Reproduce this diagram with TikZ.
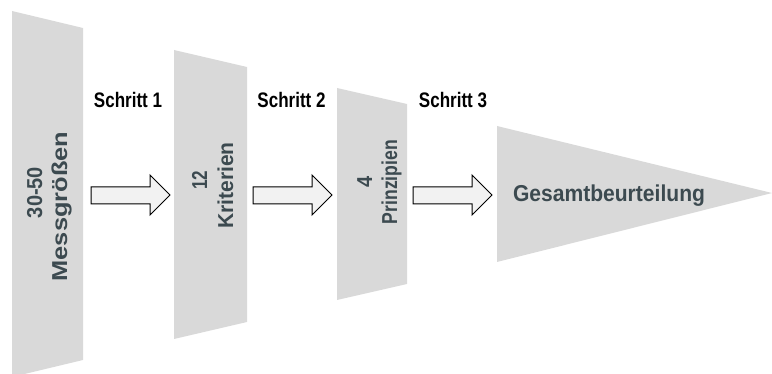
\documentclass[tikz,border=0pt]{standalone}
\usepackage{fontspec}
\setmainfont{Liberation Sans}
\definecolor{shapegray}{HTML}{D9D9D9}
\definecolor{arrowfill}{HTML}{F2F2F2}
\definecolor{slate}{HTML}{3C4A50}
\begin{document}
\begin{tikzpicture}[x=1pt,y=-1pt,
  stage/.style={fill=shapegray,draw=none},
  fatarrow/.style={fill=arrowfill,draw=black,line width=1pt,line join=miter},
  steplabel/.style={font=\fontsize{21}{24}\selectfont\bfseries,text=black,anchor=base,inner sep=0pt,xscale=0.81},
  vlabel/.style={font=\fontsize{20}{24}\selectfont\bfseries,text=slate,anchor=base,inner sep=0pt,rotate=90},
  biglabel/.style={font=\fontsize{23}{26}\selectfont\bfseries,text=slate,anchor=base,inner sep=0pt,xscale=0.916}]
\useasboundingbox (0,0) rectangle (772,374);
\begin{scope}
\clip (0,0) rectangle (772,374);
% stages
\fill[stage] (12,11) -- (83,28) -- (83,360) -- (12,377) -- cycle;
\fill[stage] (174,50) -- (247,67) -- (247,322) -- (174,339) -- cycle;
\fill[stage] (337,88) -- (407,104) -- (407,284) -- (337,300) -- cycle;
\fill[stage] (497,126) -- (772,193) -- (497,262) -- cycle;
\end{scope}
% arrows
\foreach \dx in {0,162,322}{
  \draw[fatarrow] (91+\dx,187) -- (150+\dx,187) -- (150+\dx,175) -- (170+\dx,195)
    -- (150+\dx,215) -- (150+\dx,204) -- (91+\dx,204) -- cycle;
}
% step labels
\node[steplabel] (s1) at (128,107.7) {Schritt 1};
\node[steplabel] (s2) at (291.5,108) {Schritt 2};
\node[steplabel] (s3) at (453,108) {Schritt 3};
% vertical labels (xscale = along the line, yscale = glyph height)
\node[vlabel,yscale=1.08,xscale=1.0] (n30) at (42,192.5) {30-50};
\node[vlabel,yscale=1.08,xscale=1.27] (mess) at (67,206.5) {Messgrößen};
\node[vlabel,yscale=1.08,xscale=0.85] (n12) at (207,180) {12};
\node[vlabel,yscale=1.08,xscale=1.05] (krit) at (233,185.5) {Kriterien};
\node[vlabel,yscale=1.08,xscale=1.0] (n4) at (372,182) {4};
\node[vlabel,yscale=1.08,xscale=0.88] (prinz) at (397,182) {Prinzipien};
% final
\node[biglabel] (gesamt) at (609,201.7) {Gesamtbeurteilung};
\end{tikzpicture}
\end{document}
